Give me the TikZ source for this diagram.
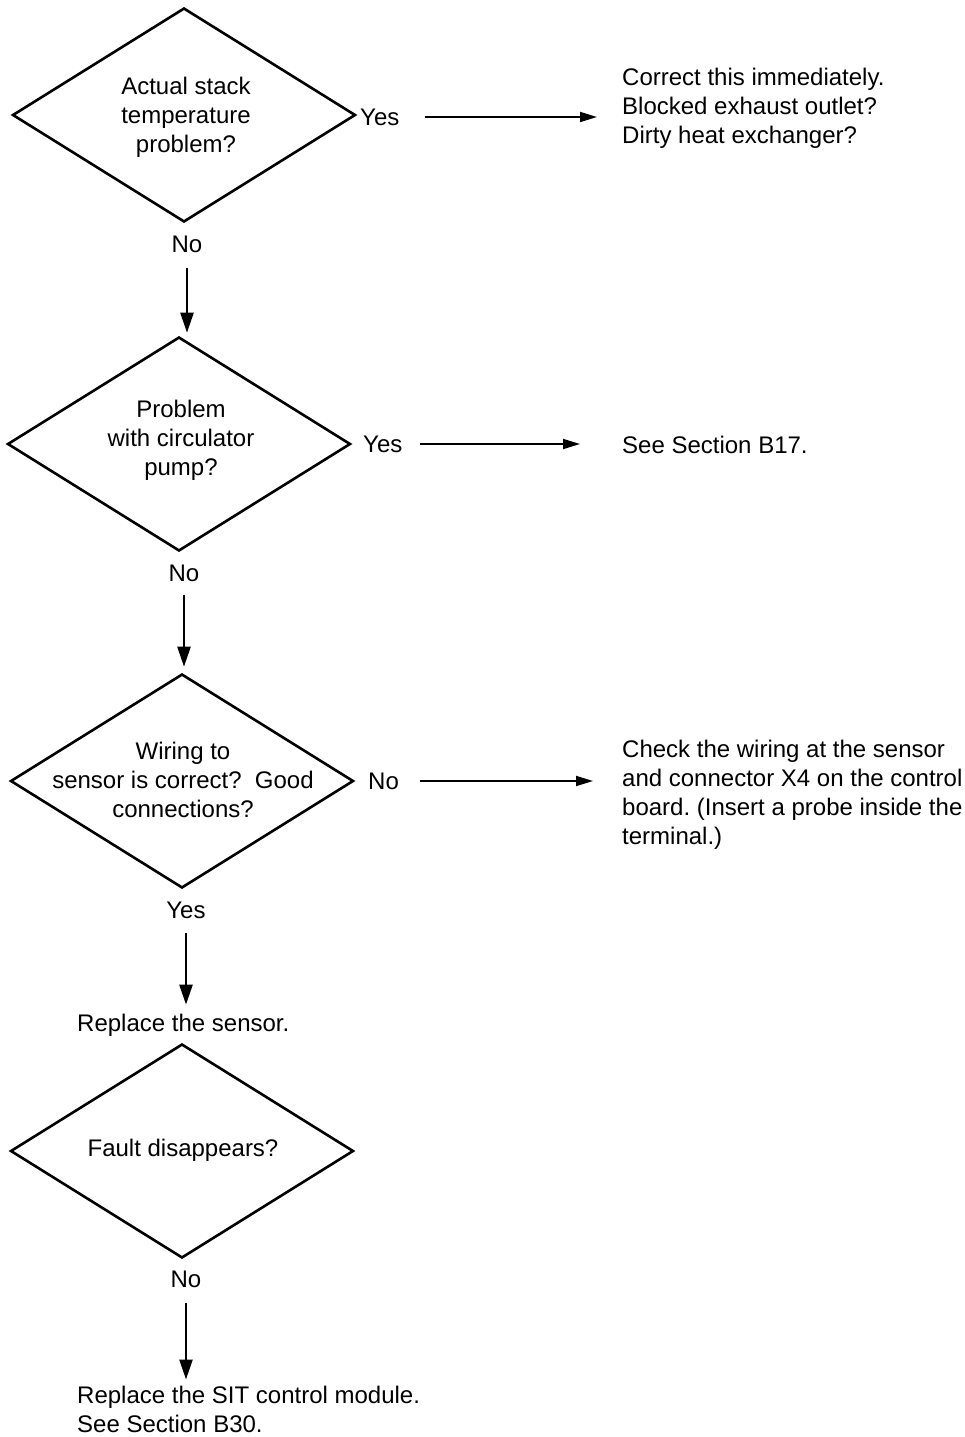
\documentclass[tikz,border=0pt]{standalone}
\usepackage{fontspec}
\setmainfont{Liberation Sans}
\frenchspacing
\usetikzlibrary{arrows.meta,positioning,shapes.geometric}
\tikzset{
  dec/.style={draw,diamond,line width=2.6pt,inner sep=0pt,
    minimum width=343pt,minimum height=214pt},
  txt/.style={align=center,inner sep=0pt,font=\fontsize{24}{29}\selectfont},
  note/.style={txt,align=left,anchor=west},
  lbl/.style={inner sep=0pt,font=\fontsize{24}{29}\selectfont},
  fl/.style={-{Triangle[length=20pt,width=13pt]},line width=2.4pt},
  fh/.style={-{Triangle[length=17pt,width=10pt]},line width=1.8pt},
}
\begin{document}
\begin{tikzpicture}[x=1pt,y=-1pt]
  \useasboundingbox (0,0) rectangle (964,1437);
  % decisions
  \node[dec] (d1) at (184,115) {};
  \node[dec] (d2) at (179,444) {};
  \node[dec] (d3) at (182,781) {};
  \node[dec] (d4) at (182,1151) {};
  \node[txt] (t1) at (186,117) {Actual stack\\temperature\\problem?};
  \node[txt] (t2) at (181,440) {Problem\\with circulator\\pump?};
  \node[txt] (t3) at (183,780) {Wiring to\\sensor is correct?\ \ Good\\connections?};
  \node[txt] (t4) at (183,1150) {Fault disappears?};
  % answers
  \node[lbl,anchor=west] (yes1) at (360,117) {Yes};
  \node[lbl,anchor=west] (yes2) at (363,444) {Yes};
  \node[lbl,anchor=west] (no3) at (368,781) {No};
  \node[lbl] (no1) at (187,244) {No};
  \node[lbl] (no2) at (184,573) {No};
  \node[lbl] (yes3) at (186,910) {Yes};
  \node[lbl] (no4) at (186,1279) {No};
  % actions
  \node[note] (n1) at (622,108) {Correct this immediately.\\Blocked exhaust outlet?\\Dirty heat exchanger?};
  \node[note] (n2) at (622,445) {See Section B17.};
  \node[note] (n3) at (622,795) {Check the wiring at the sensor\\and connector X4 on the control\\board. (Insert a probe inside the\\terminal.)};
  \node[note] (rep) at (77,1025) {Replace the sensor.};
  \node[note] (fin) at (77,1409) {Replace the SIT control module.\\See Section B30.};
  % flow
  \draw[fh,shorten <=25pt,shorten >=25pt] (yes1.east) -- (yes1.east -| n1.west);
  \draw[fh,shorten <=17pt,shorten >=42pt] (yes2.east) -- (yes2.east -| n2.west);
  \draw[fh,shorten <=21pt,shorten >=29pt] (no3.east) -- (no3.east -| n3.west);
  \draw[fl,shorten <=15pt,shorten >=3pt] (no1.south) -- (no1.south |- d2.north);
  \draw[fl,shorten <=13pt,shorten >=6pt] (no2.south) -- (no2.south |- d3.north);
  \draw[fl,shorten <=14pt,shorten >=9pt] (yes3.south) -- (yes3.south |- rep.north);
  \draw[fl,shorten <=15pt,shorten >=6pt] (no4.south) -- (no4.south |- fin.north);
\end{tikzpicture}
\end{document}
